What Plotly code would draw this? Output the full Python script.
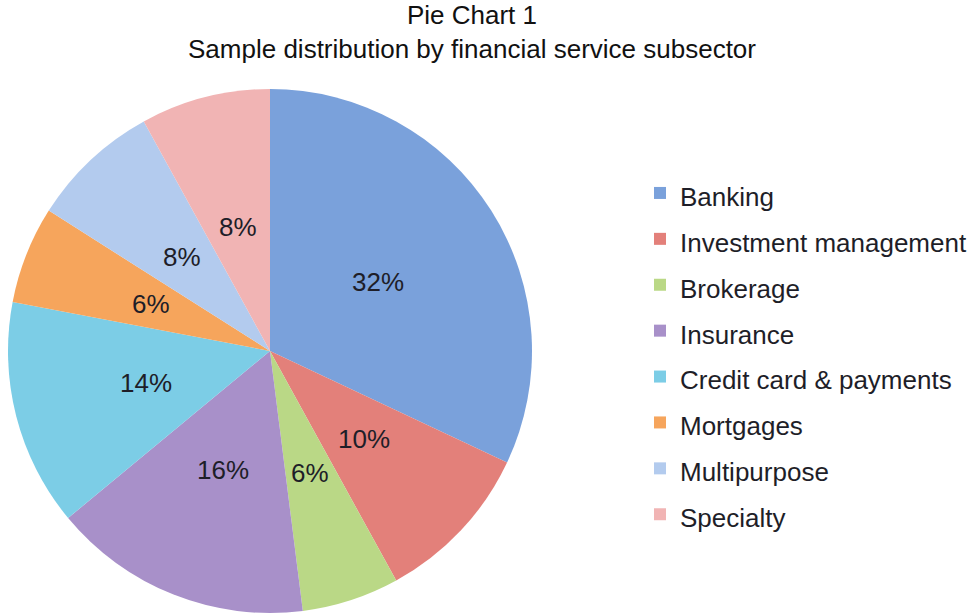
import numpy as np
import plotly.graph_objects as go

categories = ["Banking", "Investment management", "Brokerage", "Insurance",
              "Credit card & payments", "Mortgages", "Multipurpose", "Specialty"]
shares = [32, 10, 6, 16, 14, 6, 8, 8]
slice_colors = ["#7aa1db", "#e3807a", "#bad886", "#a890c9",
                "#7ccde6", "#f6a55c", "#b3cbee", "#f1b4b4"]

W, H = 974, 616
FONT = "Liberation Sans, Arial, Helvetica, sans-serif"
TXT = "#1e1e28"

# pie geometry (pixels)
cx, cy, R = 270, 351, 262
dom_x = [(cx - R) / W, (cx + R) / W]
dom_y = [1 - (cy + R) / H, 1 - (cy - R) / H]

fig = go.Figure()
fig.add_trace(go.Pie(
    labels=[f'<span style="font-size:26px">{c}</span>' for c in categories],
    values=shares,
    sort=False,
    direction="clockwise",
    rotation=0,
    marker=dict(colors=slice_colors, line=dict(width=0)),
    textinfo="none",
    hoverinfo="label+percent",
    domain=dict(x=dom_x, y=dom_y),
    showlegend=True,
))

# percentage labels placed at the mid-angle of each slice
vals = np.array(shares, dtype=float)
frac = vals / vals.sum()
mid = (np.cumsum(frac) - frac / 2) * 2 * np.pi
rl = 0.49 * R
annotations = []
for f, a in zip(frac, mid):
    px = cx + rl * np.sin(a)
    py = cy - rl * np.cos(a)
    annotations.append(dict(
        x=px / W, y=1 - py / H, xref="paper", yref="paper",
        text=f"{round(f * 100)}%", showarrow=False,
        font=dict(family=FONT, size=26, color=TXT),
        xanchor="center", yanchor="middle",
    ))

fig.update_layout(
    width=W, height=H,
    margin=dict(l=0, r=0, t=0, b=0),
    paper_bgcolor="white", plot_bgcolor="white",
    title=dict(
        text="Pie Chart 1<br>Sample distribution by financial service subsector",
        x=472 / W, xanchor="center", xref="paper",
        y=1 - 24 / H, yanchor="top", yref="container",
        font=dict(family=FONT, size=26, color="#111111"),
    ),
    legend=dict(
        x=640 / W, xanchor="left", y=1 - 165 / H, yanchor="top",
        font=dict(family=FONT, size=33, color=TXT),
        bgcolor="rgba(0,0,0,0)",
    ),
    annotations=annotations,
    font=dict(family=FONT),
)

fig.write_html("out.html")
